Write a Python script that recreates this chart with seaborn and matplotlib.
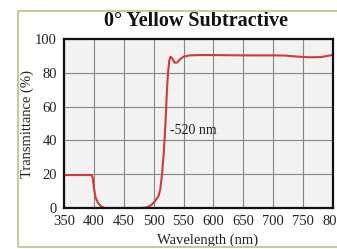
import matplotlib
matplotlib.use("Agg")
import matplotlib.pyplot as plt
import seaborn as sns
import pandas as pd
from matplotlib.patches import Rectangle

wavelength = [350, 396, 398, 400, 403, 407, 412, 418, 450, 480, 488, 495, 501, 505, 508,
              511, 514, 517, 520, 522, 524, 526, 528, 531, 535, 539, 544, 550, 560,
              575, 600, 650, 700, 720, 740, 760, 780, 800]
transmittance = [19.5, 19.5, 18, 12, 6, 3, 1, 0, 0, 0, 0.3, 1.5, 3.5, 5.5, 7,
                 11, 20, 33, 52, 68, 80, 87, 89.5, 88.5, 86, 86, 88, 89.5, 90.3,
                 90.5, 90.5, 90.3, 90.3, 90.2, 89.6, 89.2, 89.3, 90.6]
x_ticks = [350, 400, 450, 500, 550, 600, 650, 700, 750, 800]
y_ticks = [0, 20, 40, 60, 80, 100]
title = "0° Yellow Subtractive"
annotation = "-520 nm"

df = pd.DataFrame({"Wavelength": wavelength, "Transmittance": transmittance})

sns.set_theme(style="whitegrid")
plt.rcParams["font.family"] = ["Liberation Serif", "DejaVu Serif"]

fig = plt.figure(figsize=(3.37, 2.49), dpi=100)
ax = fig.add_axes([64 / 337, 1 - 208 / 249, 269 / 337, 169 / 249])
ax.set_facecolor("#f2f2f2")

sns.lineplot(data=df, x="Wavelength", y="Transmittance", ax=ax,
             color="#d23a3a", linewidth=1.5, sort=False)

ax.set_xlim(350, 800)
ax.set_ylim(0, 100)
ax.set_xticks(x_ticks)
ax.set_yticks(y_ticks)
ax.tick_params(axis="both", length=0, pad=5, labelsize=10.5, colors="#222222")
ax.grid(True, color="#858585", linewidth=0.8)
for s in ax.spines.values():
    s.set_visible(True)
    s.set_color("#111111")
    s.set_linewidth(1.6)

ax.set_xlabel("Wavelength (nm)", fontsize=10.5, color="#222222")
ax.set_ylabel("Transmittance (%)", fontsize=10.5, color="#222222")
ax.xaxis.set_label_coords(0.535, -0.15)
ax.yaxis.set_label_coords(-0.112, 0.497)

ax.text(527, 46, annotation, fontsize=10, ha="left", va="center", color="#222222")

fig.text(196 / 337, 1 - 25.5 / 249, title, fontsize=14.5, fontweight="bold",
         ha="center", va="baseline", color="#111111")

fig.patches.append(Rectangle((17.5 / 337, 1 - 246.5 / 249), 1.1, (246.5 - 11.5) / 249,
                             transform=fig.transFigure, fill=False,
                             edgecolor="#c9c99b", linewidth=1.5, zorder=10))

fig.savefig("out.png", dpi=100)
